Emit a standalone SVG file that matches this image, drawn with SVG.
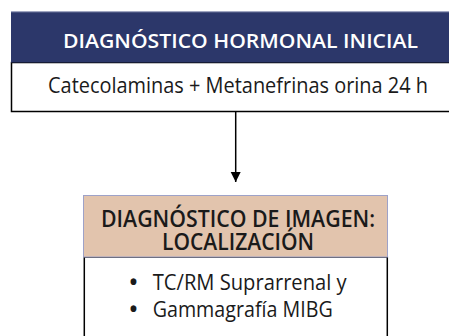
<svg xmlns="http://www.w3.org/2000/svg" width="449" height="336" viewBox="0 0 449 336">
<style>
text{font-family:"Open Sans","Liberation Sans",sans-serif}
.hdr{font-size:20.5px;font-weight:600;fill:#ffffff}
.body{font-size:21px;fill:#1a1a1a}
.bl{font-size:21px;fill:#1a1a1a}
.dot{font-size:21px;font-weight:700;fill:#1a1a1a;text-anchor:middle}
.hdr2{font-size:22.5px;font-weight:600;fill:#1a1a1a}
.edge{stroke:#000;stroke-width:1.5;fill:none}
</style>
<defs>
<marker id="ah" viewBox="0 0 10 10" refX="10" refY="5" markerWidth="10" markerHeight="12" markerUnits="userSpaceOnUse" orient="auto">
<path d="M0,0 L10,5 L0,10 z" fill="#000"/>
</marker>
</defs>
<rect width="449" height="336" fill="#ffffff"/>
<g id="node-hormonal">
<rect x="11.5" y="62.5" width="450" height="49" fill="#ffffff" stroke="#000" stroke-width="1.5"/>
<rect x="11" y="11.5" width="440" height="51" fill="#2c376a"/>
<line x1="11" y1="11.8" x2="449" y2="11.8" stroke="#a9b0cc" stroke-width="0.8"/>
<text class="hdr" x="63" y="48" textLength="355" lengthAdjust="spacingAndGlyphs">DIAGNÓSTICO HORMONAL INICIAL</text>
<text class="body" x="48" y="93" textLength="380" lengthAdjust="spacingAndGlyphs">Catecolaminas + Metanefrinas orina 24 h</text>
</g>
<g id="connectors">
<line class="edge" x1="235.7" y1="111" x2="235.7" y2="182" marker-end="url(#ah)"/>
</g>
<g id="node-imagen">
<rect x="84.3" y="257" width="303" height="90" fill="#ffffff" stroke="#000" stroke-width="1.5"/>
<rect x="83.5" y="195.5" width="304" height="61.5" fill="#e2c4ad" stroke="#9ea2c8" stroke-width="1"/>
<text class="hdr2" x="101" y="226.7" textLength="274" lengthAdjust="spacingAndGlyphs">DIAGNÓSTICO DE IMAGEN:</text>
<text class="hdr2" x="162" y="250" textLength="152" lengthAdjust="spacingAndGlyphs">LOCALIZACIÓN</text>
<text class="dot" x="133.5" y="290">•</text>
<text class="bl" x="152.7" y="290" textLength="194" lengthAdjust="spacingAndGlyphs">TC/RM Suprarrenal y</text>
<text class="dot" x="133.5" y="316.7">•</text>
<text class="bl" x="152.7" y="316.7" textLength="180" lengthAdjust="spacingAndGlyphs">Gammagrafía MIBG</text>
</g>
</svg>
